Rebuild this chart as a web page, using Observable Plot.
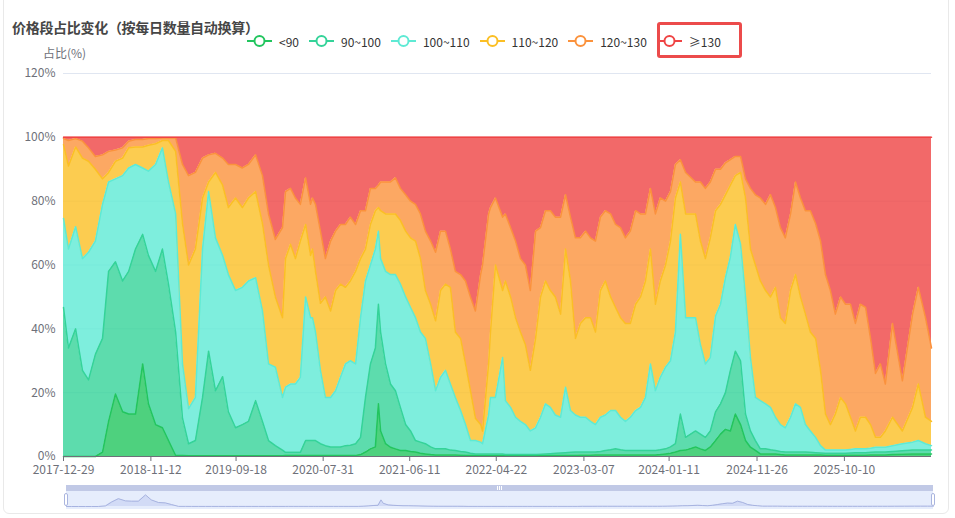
<!DOCTYPE html>
<html>
<head>
<meta charset="utf-8">
<script src="https://cdn.jsdelivr.net/npm/d3@7"></script>
<script src="https://cdn.jsdelivr.net/npm/@observablehq/plot@0.6"></script>
<style>
  html, body { margin: 0; padding: 0; background: #fff; overflow: hidden; }
  #wrap { position: relative; width: 955px; height: 518px; font-family: "Noto Sans CJK SC", "Noto Sans", sans-serif; }
  .abs { position: absolute; }
  #card { left: 3px; top: -10px; width: 946px; height: 524px; border: 1px solid #e9e9e9; border-radius: 6px; box-sizing: border-box; }
  #title { left: 12px; top: 17px; font-size: 14px; letter-spacing: -0.3px; font-weight: bold; color: #464646; white-space: nowrap; }
  #yname { left: 43px; top: 44px; font-size: 12px; color: #6e7079; white-space: nowrap; }
  #legend { left: 247px; top: 33px; display: flex; gap: 10px; align-items: center; font-size: 12px; color: #333; white-space: nowrap; }
  .item { display: flex; align-items: center; gap: 7px; height: 16px; }
  #hl { left: 657px; top: 22px; width: 85px; height: 36px; border: 3px solid #ec4b4b; border-radius: 3px; box-sizing: border-box; }
  #main { left: 0; top: 62px; }
  #zbar { left: 66px; top: 485px; width: 867px; height: 6px; background: #c1c9e6; }
  #zbody { left: 66px; top: 491px; width: 867px; height: 18px; background: #e6edfc; }
  #zgrip { left: 497px; top: 486px; width: 5px; height: 4px; border-left: 1px solid #fff; border-right: 1px solid #fff; box-sizing: border-box; }
  #zgrip:after { content: ""; position: absolute; left: 1px; top: 0; width: 1px; height: 4px; background: #fff; }
  .handle { top: 493px; width: 4px; height: 13px; background: #fff; border: 1px solid #aab5df; border-radius: 2px; box-sizing: border-box; }
  #slider { left: 0; top: 482px; }
</style>
</head>
<body>
<div id="wrap">
  <div id="card" class="abs"></div>
  <div id="title" class="abs">价格段占比变化（按每日数量自动换算）</div>
  <div id="yname" class="abs">占比(%)</div>
  <div id="legend" class="abs"></div>
  <div id="hl" class="abs"></div>
  <div id="main" class="abs"></div>
  <div id="zbar" class="abs"></div>
  <div id="zbody" class="abs"></div>
  <div id="zgrip" class="abs"></div>
  <div id="slider" class="abs"></div>
  <div class="abs handle" style="left:64px"></div>
  <div class="abs handle" style="left:931px"></div>
</div>
<script>
// ---------- data ----------
const dates = [
  "2017-12-29","2018-01-16","2018-02-11","2018-03-08","2018-03-30","2018-04-24","2018-05-20","2018-06-11","2018-07-06","2018-08-01",
  "2018-08-23","2018-09-17","2018-10-13","2018-11-03","2018-11-29","2018-12-24","2019-01-15","2019-02-10","2019-03-07","2019-03-29",
  "2019-04-23","2019-05-19","2019-06-10","2019-07-05","2019-07-31","2019-08-21","2019-09-16","2019-10-11","2019-11-02","2019-11-28",
  "2019-12-23","2020-01-14","2020-02-08","2020-03-05","2020-03-16","2020-04-03","2020-04-21","2020-05-09","2020-05-28","2020-06-15",
  "2020-06-22","2020-07-03","2020-07-21","2020-08-08","2020-08-27","2020-09-14","2020-10-02","2020-10-20","2020-11-07","2020-11-26",
  "2020-12-14","2021-01-01","2021-01-19","2021-02-06","2021-02-17","2021-02-25","2021-03-15","2021-04-02","2021-04-20","2021-05-08",
  "2021-05-27","2021-06-14","2021-07-02","2021-07-20","2021-08-07","2021-08-26","2021-09-13","2021-10-01","2021-10-19","2021-11-06",
  "2021-11-24","2021-12-13","2021-12-31","2022-01-18","2022-02-05","2022-02-24","2022-03-03","2022-03-25","2022-04-01","2022-04-19",
  "2022-05-15","2022-05-25","2022-06-13","2022-07-01","2022-07-19","2022-08-06","2022-08-24","2022-09-12","2022-09-30","2022-10-18",
  "2022-11-05","2022-11-23","2022-12-12","2022-12-30","2023-01-17","2023-02-04","2023-02-22","2023-03-13","2023-03-31","2023-04-18",
  "2023-05-06","2023-05-24","2023-06-12","2023-06-30","2023-07-18","2023-08-05","2023-08-23","2023-09-11","2023-09-29","2023-10-17",
  "2023-11-04","2023-11-22","2023-12-10","2023-12-29","2024-01-16","2024-02-03","2024-02-21","2024-03-11","2024-04-16","2024-05-04",
  "2024-05-22","2024-06-09","2024-06-28","2024-07-16","2024-08-03","2024-08-21","2024-09-08","2024-09-27","2024-10-15","2024-11-02",
  "2024-11-20","2024-12-08","2024-12-27","2025-01-14","2025-02-01","2025-02-19","2025-03-09","2025-03-28","2025-04-15","2025-05-03",
  "2025-05-21","2025-06-08","2025-06-27","2025-07-15","2025-08-02","2025-08-20","2025-09-07","2025-09-26","2025-10-14","2025-11-01",
  "2025-11-19","2025-12-07","2025-12-26","2026-01-13","2026-01-31","2026-02-18","2026-03-08","2026-04-03","2026-05-09","2026-06-15",
  "2026-07-06","2026-08-01","2026-08-23"
];

// share (%) of each price band on each date
const bandLt90 = [
  0, 0, 0, 0, 0, 0, 1.4, 11, 19.6, 14,
  13.3, 13.3, 29, 16.5, 10, 9, 5, 0.3, 0.3, 0.2,
  0.2, 0.2, 0.2, 0.2, 0.2, 0.2, 0.2, 0.2, 0.2, 0.2,
  0.2, 0.2, 0.2, 0.2, 0.3, 0.3, 0.3, 0.3, 0.3, 0.3,
  0.3, 0.3, 0.3, 0.3, 0.3, 0.3, 0.3, 0.3, 0.3, 0.3,
  0.6, 1.4, 2.4, 3, 16.5, 8, 4, 2.9, 2.4, 1.9,
  1.9, 1.6, 1.4, 1, 0.8, 0.6, 0.5, 0.5, 0.5, 0.5,
  0.5, 0.4, 0.3, 0.3, 0.3, 0.3, 0.3, 0.3, 0.3, 0.3,
  0.3, 0.3, 0.3, 0.3, 0.3, 0.3, 0.3, 0.3, 0.3, 0.3,
  0.3, 0.3, 0.3, 0.3, 0.3, 0.3, 0.4, 0.4, 0.4, 0.5,
  0.5, 0.5, 0.5, 0.5, 0.5, 0.5, 0.5, 0.5, 0.5, 0.5,
  0.5, 0.5, 0.6, 0.8, 1, 1.4, 1.9, 2, 3, 2.4,
  1.9, 3, 5, 7, 8.5, 8, 13.3, 10, 5, 2.9,
  1.9, 0.8, 0.8, 0.8, 0.8, 0.6, 0.5, 0.5, 0.5, 0.5,
  0.5, 0.5, 0.5, 0.5, 0.4, 0.4, 0.4, 0.4, 0.4, 0.4,
  0.4, 0.4, 0.4, 0.5, 0.5, 0.5, 0.5, 0.6, 0.7, 0.8,
  0.8, 0.8, 0.8
];
const band90to100 = [
  46.7, 34, 40, 27, 24, 32, 35.6, 47, 41.4, 41,
  44.7, 51.7, 40.6, 46.5, 48, 56, 49, 38.7, 11.7, 3.8,
  4.8, 18.3, 32.8, 20.4, 24.8, 13.8, 8.8, 9.8, 10.8, 17.3,
  10.8, 4.8, 3.2, 1.8, 1, 1, 1, 1, 4.7, 4.7,
  4.7, 4.7, 3.7, 3.1, 2.7, 2.7, 2.7, 3.1, 3.2, 3.7,
  5.4, 17.1, 26.6, 31, 31.2, 31, 25, 19.8, 18.2, 13.5,
  8.1, 6.4, 3.6, 3.5, 3.2, 2.4, 1.9, 1.9, 1.9, 1.5,
  1.4, 1.2, 1.1, 0.7, 0.5, 0.5, 0.5, 0.5, 0.5, 0.5,
  0.5, 0.3, 0.3, 0.3, 0.3, 0.3, 0.3, 0.3, 0.4, 0.5,
  0.6, 0.7, 0.8, 0.9, 1, 1.1, 1, 1, 1, 0.9,
  1.1, 1.4, 1.6, 1.9, 1.6, 1.4, 1.4, 1.4, 1.4, 1.4,
  1.4, 1.4, 1.5, 1.6, 2, 2.6, 11.4, 4, 5, 4.6,
  4.1, 5, 9, 9.5, 11.5, 19, 19.7, 20, 8.3, 5.1,
  3.1, 1.6, 1.6, 1.3, 1.1, 1, 0.9, 0.9, 0.9, 0.9,
  0.9, 0.8, 0.7, 0.6, 0.6, 0.6, 0.6, 0.6, 0.6, 0.7,
  0.8, 0.8, 0.8, 0.8, 0.9, 0.9, 0.9, 1, 1.1, 1.2,
  1.2, 1.2, 1.2
];
const band100to110 = [
  27.9, 31, 32, 35, 40, 35.5, 42, 28, 26, 33,
  32.4, 26.5, 20.8, 26.4, 33.5, 31.7, 32, 37, 17, 11,
  13.5, 46.5, 50, 47.9, 38, 43, 43, 43, 44, 38.5,
  34.6, 24, 24.6, 16.5, 20.4, 21.4, 21.4, 23.5, 45, 38.5,
  38.5, 34, 23, 15.1, 15.5, 17.6, 21.8, 25.6, 26.5, 25,
  37.5, 36.5, 31, 31, 22.9, 23, 29, 34.3, 36.4, 38.6,
  40, 38.7, 38.5, 34.5, 33, 26, 18.2, 22.4, 24.6, 20.7,
  16.6, 12.8, 8.6, 4, 4.2, 3.7, 3.2, 12.2, 17.7, 17.7,
  30.2, 16.9, 14.8, 11.7, 10.4, 9.4, 7.4, 8.4, 11.6, 15.7,
  14.5, 12, 11.2, 20.5, 13.1, 11.6, 10.9, 10.9, 9.6, 8.6,
  10.7, 11.1, 12.3, 12, 10.2, 9.1, 10.4, 12.5, 13.5, 16.6,
  27.1, 18.7, 22.7, 25.6, 27, 35, 56.3, 37.5, 35.5, 28,
  23, 23, 30, 31.2, 36, 35.5, 39.7, 36.5, 36.7, 23,
  13.5, 15.1, 14.1, 13.3, 10.4, 8.4, 7.6, 10.9, 15.1, 14,
  8.6, 6.7, 4.8, 2.3, 1, 1, 1, 1, 1, 1.1,
  1.2, 1.2, 1.2, 1.3, 1.5, 1.5, 1.5, 1.8, 2.2, 2.5,
  3, 2, 1.4
];
const band110to120 = [
  23.1, 26, 25, 31.5, 28.5, 22.5, 8, 3, 5.5, 5.5,
  6.3, 5.5, 6.6, 8.1, 6.5, 2.3, 13, 19.6, 44, 45,
  46.5, 16, 3, 20.5, 22, 21, 29, 25, 26, 27,
  27.4, 31, 22, 25, 40.3, 43.8, 39.3, 42.7, 22.7, 19.5,
  21.5, 19, 21, 31.5, 27.1, 31.4, 29.2, 24, 25, 29,
  18.5, 10, 12.7, 12, 7.4, 15, 18, 19, 19, 20,
  20.6, 21.8, 24, 23, 15, 18.7, 21.9, 27.2, 27, 30.3,
  20.5, 22.6, 19, 15.6, 7, 5.5, 4, 16, 20.5, 41.5,
  21, 37.5, 34.6, 31.2, 28, 25, 19, 28, 37.7, 38.5,
  36.6, 37, 32.3, 43.3, 40.6, 24, 29.4, 31.2, 32.5, 29,
  39.7, 42, 35.6, 32.3, 31.2, 30.7, 29.4, 33.3, 34.6, 36.5,
  36, 27.1, 30.2, 32, 37.5, 42, 16.4, 32.5, 32.5, 32.5,
  33, 37.5, 33, 31.3, 26, 22.5, 15.3, 22.5, 31, 34,
  41.5, 37.5, 35.5, 34.6, 40.7, 33.5, 32.7, 39.7, 40.5, 34.6,
  34.6, 31, 31, 23.6, 11.3, 8, 11.3, 16.5, 14.5, 10.1,
  5.6, 9.9, 9.9, 7.4, 3.1, 3.1, 5.1, 8.9, 4, 10.9,
  17.7, 8.3, 7.6
];
const band120to130 = [
  1.9, 8, 2.6, 5.3, 4.2, 4, 7.5, 6.6, 3.5, 3.2,
  2.1, 2.3, 2.3, 2.1, 1.6, 0.8, 0.8, 4.2, 18.5, 28,
  24, 12.5, 8.5, 6, 8.5, 13.5, 10.5, 12.4, 10.5, 11.5,
  15, 16, 18, 28.2, 21, 17.5, 19, 11.5, 14.6, 16,
  16, 21, 22.6, 12, 21.9, 18.6, 18.7, 19.7, 20, 14.7,
  15, 12, 11.3, 7, 7, 9, 10, 10, 11.3, 10,
  11.4, 11.5, 11.5, 14, 18.6, 19.8, 21.5, 18.6, 16.6, 12,
  19, 20, 26, 29.4, 33.6, 47, 52, 47, 39, 21,
  23, 21, 21.7, 24, 23, 25, 25, 33.6, 21.7, 22,
  25, 25, 30.4, 17, 20, 31.5, 26.8, 27.1, 25, 28.5,
  23, 22, 26, 26, 28.2, 26.8, 28.9, 29.3, 26, 21,
  19, 28.3, 26, 20, 15.5, 10.5, 7, 13, 10, 18.5,
  22, 17.5, 13, 11, 10, 8, 6, 5, 6, 19,
  22, 26, 27, 32, 25, 28.2, 26.8, 24, 29, 31,
  32.4, 38, 36, 40.5, 43.7, 42, 31.3, 31.5, 31.2, 35.4,
  33.7, 35.4, 34.4, 27, 20, 23, 14.7, 29.4, 15.7, 29.2,
  30.3, 31.2, 23
];
const bandGe130 = [
  0.4, 1, 0.4, 1.2, 3.3, 6, 5.5, 4.4, 4, 3.3,
  1.2, 0.7, 0.7, 0.4, 0.4, 0.2, 0.2, 0.2, 8.5, 12,
  11, 6.5, 5.5, 5, 6.5, 8.5, 8.5, 9.6, 8.5, 5.5,
  12, 24, 32, 28.3, 17, 16, 19, 21, 12.7, 21,
  19, 21, 29.4, 38, 32.5, 29.4, 27.3, 27.3, 25, 27.3,
  23, 23, 16, 16, 15, 14, 14, 14, 12.7, 16,
  18, 20, 21, 24, 29.4, 32.5, 36, 29.4, 29.4, 35,
  42, 43, 45, 50, 54.4, 43, 40, 24, 22, 19,
  25, 24, 28.3, 32.5, 38, 40, 48, 29.4, 28.3, 23,
  23, 25, 25, 18, 25, 31.5, 31.5, 29.4, 31.5, 32.5,
  25, 23, 24, 27.3, 28.3, 31.5, 29.4, 23, 24, 24,
  16, 24, 19, 20, 17, 8.5, 7, 11, 14, 14,
  16, 14, 10, 10, 8, 7, 6, 6, 13, 16,
  18, 19, 21, 18, 22, 28.3, 31.5, 24, 14, 19,
  23, 23, 27, 32.5, 43, 48, 55.4, 50, 52.3, 52.3,
  58.3, 52.3, 53.3, 63, 74, 71, 77.3, 58.3, 76.3, 55.4,
  47, 56.5, 66
];

const seriesNames = ["<90", "90~100", "100~110", "110~120", "120~130", "≥130"];
const seriesColors = ["#22c55e", "#34d399", "#5eead4", "#fbbf24", "#fb923c", "#ef4444"];
const xTickLabels = ["2017-12-29","2018-11-12","2019-09-18","2020-07-31","2021-06-11","2022-04-22","2023-03-07","2024-01-11","2024-11-26","2025-10-10"];
const yTicks = [0, 20, 40, 60, 80, 100, 120];

// ---------- build ----------
const parse = d3.utcParse("%Y-%m-%d");
const seriesValues = [bandLt90, band90to100, band100to110, band110to120, band120to130, bandGe130];
const rows = [];
seriesNames.forEach((name, i) => {
  seriesValues[i].forEach((v, j) => rows.push({date: parse(dates[j]), series: name, value: v}));
});
const xDomain = [parse(dates[0]), parse(dates[dates.length - 1])];

// legend
const legend = document.getElementById("legend");
seriesNames.forEach((name, i) => {
  const c = seriesColors[i];
  const it = document.createElement("div");
  it.className = "item";
  it.innerHTML = `<svg width="25" height="14" style="overflow:visible"><line x1="0" y1="7" x2="25" y2="7" stroke="${c}" stroke-width="2"/><circle cx="12.5" cy="7" r="5" fill="#fff" stroke="${c}" stroke-width="2"/></svg><span>${name}</span>`;
  legend.appendChild(it);
});

const font = {fontFamily: "'Noto Sans CJK SC', 'Noto Sans', sans-serif", fontSize: "12px", background: "transparent", overflow: "visible"};

const main = Plot.plot({
  width: 955,
  height: 420,
  marginLeft: 63,
  marginRight: 24,
  marginTop: 11,
  marginBottom: 26,
  style: font,
  x: {type: "utc", domain: xDomain},
  y: {domain: [0, 120]},
  color: {domain: seriesNames, range: seriesColors},
  marks: [
    Plot.ruleY(yTicks.filter(t => t > 0), {stroke: "#e0e6f1", strokeWidth: 1}),
    Plot.areaY(rows, {x: "date", y: "value", z: "series", fill: "series", fillOpacity: 0.8}),
    Plot.lineY(rows, Plot.stackY2({x: "date", y: "value", z: "series", stroke: "series", strokeWidth: 1.5})),
    Plot.ruleY([0], {stroke: "#6e7079", strokeWidth: 1}),
    Plot.axisX({ticks: xTickLabels.map(parse), tickFormat: d3.utcFormat("%Y-%m-%d"), tickSize: 5, tickPadding: 4, stroke: "#6e7079", fill: "#6e7079", label: null}),
    Plot.axisY({ticks: yTicks, tickFormat: d => d + "%", tickSize: 0, tickPadding: 8, fill: "#6e7079", label: null})
  ]
});
document.getElementById("main").appendChild(main);

// data-zoom overview (shadow of the first series)
const lt90Rows = rows.filter(r => r.series === "<90");
const slider = Plot.plot({
  width: 955,
  height: 30,
  marginLeft: 66,
  marginRight: 22,
  marginTop: 0,
  marginBottom: 0,
  style: font,
  x: {type: "utc", domain: xDomain, axis: null},
  y: {domain: [0, 30], range: [24, 12], axis: null},
  marks: [
    Plot.areaY(lt90Rows, {x: "date", y: "value", fill: "#d2dbf6", fillOpacity: 1}),
    Plot.lineY(lt90Rows, {x: "date", y: "value", stroke: "#a7b3e0", strokeWidth: 1})
  ]
});
document.getElementById("slider").appendChild(slider);
</script>
</body>
</html>
